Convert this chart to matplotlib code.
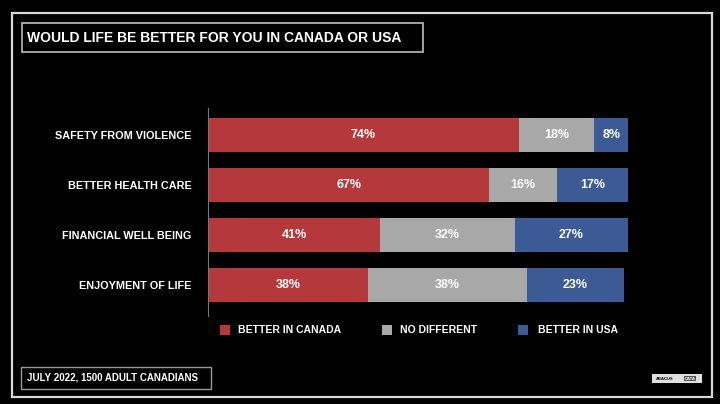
import matplotlib.pyplot as plt
from matplotlib.patches import Rectangle

categories = ["SAFETY FROM VIOLENCE", "BETTER HEALTH CARE", "FINANCIAL WELL BEING", "ENJOYMENT OF LIFE"]
better_canada = [74, 67, 41, 38]
no_different = [18, 16, 32, 38]
better_usa = [8, 17, 27, 23]
series_names = ["BETTER IN CANADA", "NO DIFFERENT", "BETTER IN USA"]
colors = ["#b5393b", "#a8a8a8", "#3c5a94"]

W, H = 720, 404
plt.rcParams['font.family'] = ['Liberation Sans', 'DejaVu Sans']
plt.rcParams['font.weight'] = 'bold'

fig = plt.figure(figsize=(W / 100, H / 100), dpi=100, facecolor="black")

def fx(px):
    return px / W

def fy(py):
    return 1 - py / H

# outer frame, title box, footer box
fig.patches.append(Rectangle((fx(12), fy(397)), fx(700), 384 / H, transform=fig.transFigure,
                             fill=False, edgecolor="#d8d8d8", linewidth=1.6))
fig.patches.append(Rectangle((fx(22), fy(52)), fx(401), 29 / H, transform=fig.transFigure,
                             fill=False, edgecolor="#bdbdbd", linewidth=1.2))
fig.text(fx(27), fy(38), "WOULD LIFE BE BETTER FOR YOU IN CANADA OR USA", color="white",
         fontsize=10, va="center", ha="left", fontweight="bold")
fig.patches.append(Rectangle((fx(21), fy(389)), fx(190), 22 / H, transform=fig.transFigure,
                             fill=False, edgecolor="#9a9a9a", linewidth=1.0))
fig.text(fx(27), fy(378), "JULY 2022, 1500 ADULT CANADIANS", color="white",
         fontsize=7, va="center", ha="left")

# small logo block bottom right
fig.patches.append(Rectangle((fx(652), fy(383)), fx(50), 9 / H, transform=fig.transFigure,
                             facecolor="#e0e0e0", edgecolor="none"))
fig.text(fx(665), fy(378.5), "ABACUS", color="black", fontsize=3, va="center", ha="center")
fig.text(fx(690), fy(378.5), "DATA", color="white", fontsize=3, va="center", ha="center",
         bbox=dict(facecolor="#555555", edgecolor="none", pad=0.5))

# bars
ax = fig.add_axes([fx(208), fy(316), fx(420), 208 / H])
ax.set_facecolor("black")
y = list(range(len(categories)))
left = [0] * len(categories)
for vals, col in zip([better_canada, no_different, better_usa], colors):
    ax.barh(y, vals, left=left, height=0.68, color=col, edgecolor="none")
    for i, v in enumerate(vals):
        ax.text(left[i] + v / 2, y[i], f"{v}%", color="white", ha="center", va="center",
                fontsize=9, fontweight="bold")
    left = [l + v for l, v in zip(left, vals)]

ax.set_xlim(0, 100)
ax.set_ylim(3.62, -0.54)
ax.set_xticks([])
ax.set_yticks(y)
ax.set_yticklabels(categories, color="white", fontsize=7.8, fontweight="bold")
ax.tick_params(axis="y", length=0, pad=12)
for s in ["top", "right", "bottom"]:
    ax.spines[s].set_visible(False)
ax.spines["left"].set_color("#777777")
ax.spines["left"].set_linewidth(0.8)

# legend
leg_x = [220, 382, 518]
leg_text_x = [238, 400, 538]
for name, col, lx, tx in zip(series_names, colors, leg_x, leg_text_x):
    fig.patches.append(Rectangle((fx(lx), fy(335)), fx(10), 10 / H, transform=fig.transFigure,
                                 facecolor=col, edgecolor="none"))
    fig.text(fx(tx), fy(330), name, color="white", fontsize=7.5, va="center", ha="left")

fig.savefig("out.png", dpi=100, facecolor="black")
